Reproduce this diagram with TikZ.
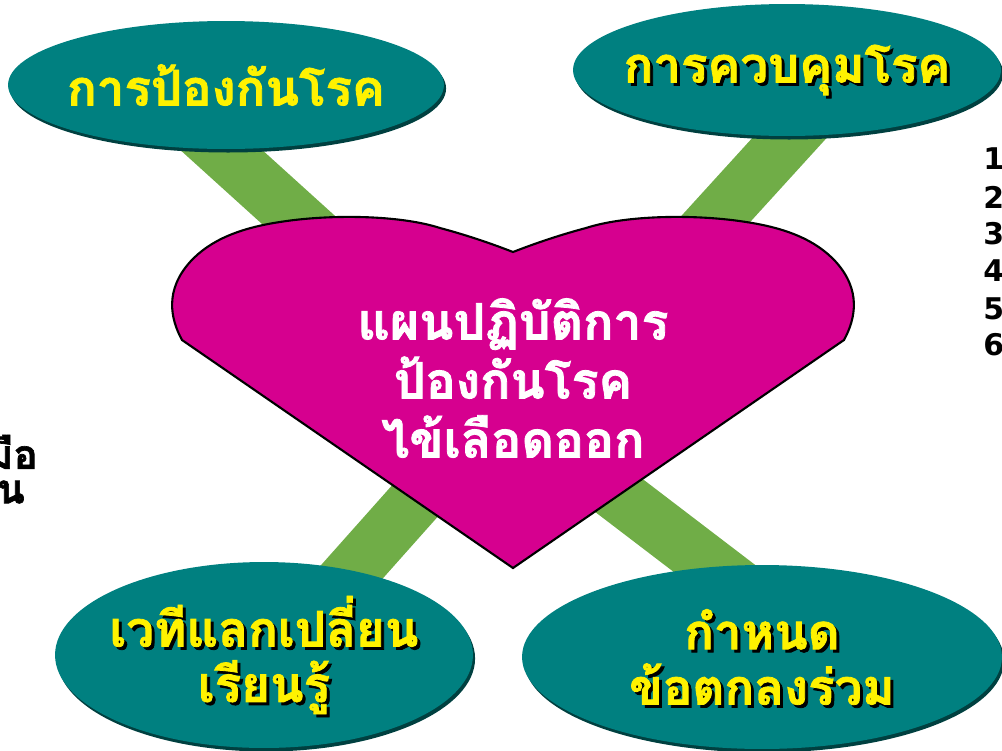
\documentclass[tikz,border=0pt]{standalone}
\usepackage{fontspec}
\usetikzlibrary{shapes.geometric,shadows}
\newfontfamily\thaifont[Script=Thai, BoldFeatures={FakeBold=1.6}]{Loma}
\newfontfamily\digitfont{DejaVu Sans}
\definecolor{tealfill}{RGB}{0,128,128}
\definecolor{barfill}{RGB}{112,173,71}
\definecolor{heartfill}{RGB}{214,0,143}

\begin{document}
\begin{tikzpicture}[x=0.02cm, y=-0.02cm,
    topic/.style ={ellipse, fill=tealfill, inner sep=0pt,
      drop shadow={shadow xshift=1.2pt, shadow yshift=-2pt, fill=tealfill!50!black, opacity=1}},
    caption/.style ={font=\thaifont\bfseries\fontsize{28}{31.5}\selectfont, text=yellow, align=center},
    captionshadow/.style ={caption, text=black},
    bar/.style ={line width=1.1cm, barfill},
    heart/.style ={fill=heartfill, draw=black, line width=1.2pt},
    plan/.style ={font=\thaifont\bfseries\fontsize{28.5}{33.6}\selectfont, text=white, align=center},
    side/.style ={font=\thaifont\bfseries\fontsize{23}{25}\selectfont, text=black},
    num/.style ={font=\digitfont\bfseries\fontsize{17}{19}\selectfont, text=black, anchor=west, inner sep=0pt}]
   \useasboundingbox (0,0) rectangle (1002,751);

   \coordinate (tla) at (166,100);
   \coordinate (tlb) at (387,300);
   \coordinate (tra) at (824,100);
   \coordinate (trb) at (642,300);
   \coordinate (bla) at (309,620);
   \coordinate (blb) at (487,420);
   \coordinate (bra) at (782,620);
   \coordinate (brb) at (520,420);

   \draw[bar] (tla) to (tlb);
   \draw[bar] (tra) to (trb);
   \draw[bar] (bla) to (blb);
   \draw[bar] (bra) to (brb);

   \node[topic, minimum width=8.72cm, minimum height=2.56cm] (prevent) at (226,85) {};
   \node[topic, minimum width=8.56cm, minimum height=2.64cm] (control) at (787,70) {};
   \node[topic, minimum width=8.36cm, minimum height=3.72cm] (forum) at (264,655) {};
   \node[topic, minimum width=9.6cm, minimum height=3.68cm] (agree) at (762,657) {};

   \draw[heart] (513,568) -- (182,340)
      .. controls (170,318) and (165,290) .. (190,262)
      .. controls (210,240) and (240,228) .. (280,222)
      .. controls (330,214) and (400,215) .. (440,228)
      .. controls (470,236) and (495,245) .. (513,252)
      .. controls (531,245) and (556,236) .. (586,228)
      .. controls (626,215) and (696,214) .. (746,222)
      .. controls (786,228) and (816,240) .. (836,262)
      .. controls (861,290) and (856,318) .. (844,340) -- cycle;

   \node[plan] (plan) at (513,378) {แผนปฏิบัติการ\\ป้องกันโรค\\ไข้เลือดออก};

   \node[caption] (preventtext) at (prevent) {การป้องกันโรค};
   \node[captionshadow] (controlshadow) at ([shift={(3,3)}]control) {การควบคุมโรค};
   \node[caption] (controltext) at (control) {การควบคุมโรค};
   \node[captionshadow] (forumshadow) at ([shift={(3,3)}]forum) {เวทีแลกเปลี่ยน\\เรียนรู้};
   \node[caption] (forumtext) at (forum) {เวทีแลกเปลี่ยน\\เรียนรู้};
   \node[captionshadow] (agreeshadow) at ([shift={(3,3)}]agree) {กำหนด\\ข้อตกลงร่วม};
   \node[caption] (agreetext) at (agree) {กำหนด\\ข้อตกลงร่วม};

   \node[side, anchor=east] (sidea) at (44,452) {มือ};
   \node[side, anchor=east] (sideb) at (31,492) {น};

   \node[num] (n1) at (983,159) {1};
   \node[num] (n2) at (983,197) {2};
   \node[num] (n3) at (983,234) {3};
   \node[num] (n4) at (983,271) {4};
   \node[num] (n5) at (983,309) {5};
   \node[num] (n6) at (983,345) {6};

 \end{tikzpicture}
\end{document}
